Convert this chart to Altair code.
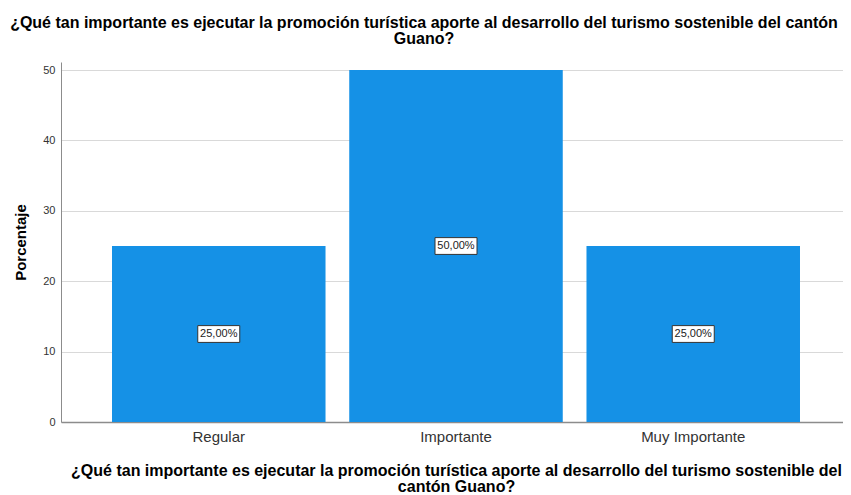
import altair as alt
import pandas as pd

categories = ["Regular", "Importante", "Muy Importante"]
percentages = [25.0, 50.0, 25.0]
y_ticks = [0, 10, 20, 30, 40, 50]
title_lines = [
    "¿Qué tan importante es ejecutar la promoción turística aporte al desarrollo del turismo sostenible del cantón",
    "Guano?",
]
x_title_lines = [
    "¿Qué tan importante es ejecutar la promoción turística aporte al desarrollo del turismo sostenible del",
    "cantón Guano?",
]
y_title = "Porcentaje"

df = pd.DataFrame({"cat": categories, "pct": percentages})
df["label"] = [f"{v:.2f}".replace(".", ",") + "%" for v in percentages]
df["mid"] = df["pct"] / 2

FONT = "Liberation Sans"
x_scale = alt.Scale(domain=categories, range=[0, 790], paddingInner=0.1, paddingOuter=0.215)
y_scale = alt.Scale(domain=[0, 51.14], nice=False, zero=True)

x_axis = alt.Axis(
    title=x_title_lines,
    titleFont=FONT,
    titleFontSize=16,
    titleFontWeight="bold",
    titleColor="#000000",
    titleLineHeight=16,
    titlePadding=18,
    titleX=395,
    labelFont=FONT,
    labelFontSize=15,
    labelColor="#333333",
    labelPadding=7,
    labelAngle=0,
    ticks=False,
    tickSize=0,
    grid=False,
    domainColor="#8c8c8c",
    domainWidth=1.5,
)
y_axis = alt.Axis(
    values=y_ticks,
    format="d",
    title=y_title,
    titleFont=FONT,
    titleFontSize=15,
    titleFontWeight="bold",
    titleColor="#000000",
    titlePadding=14,
    labelFont=FONT,
    labelFontSize=11,
    labelColor="#333333",
    labelPadding=6,
    ticks=False,
    tickSize=0,
    grid=True,
    gridColor="#d9d9d9",
    gridWidth=1.2,
    domainColor="#8c8c8c",
    domainWidth=1,
)

X = alt.X("cat:N", scale=x_scale, sort=categories, axis=x_axis)

base = alt.Chart(df)

bars = base.mark_bar(color="#1591e6").encode(
    x=X,
    y=alt.Y("pct:Q", scale=y_scale, axis=y_axis),
)

boxes = base.mark_point(
    shape="M-1,-0.4L1,-0.4L1,0.4L-1,0.4Z",
    size=1764,
    filled=True,
    fill="white",
    stroke="#333333",
    strokeWidth=1,
    opacity=1,
    fillOpacity=1,
).encode(
    x=X,
    y=alt.Y("mid:Q", scale=y_scale, axis=y_axis),
)

texts = base.mark_text(font=FONT, fontSize=11, color="#222222", baseline="middle", align="center").encode(
    x=X,
    y=alt.Y("mid:Q", scale=y_scale, axis=y_axis),
    text="label:N",
)

chart = (
    alt.layer(bars, boxes, texts)
    .properties(
        width=782,
        height=360,
        title=alt.TitleParams(
            text=title_lines,
            font=FONT,
            fontSize=16,
            fontWeight="bold",
            color="#000000",
            lineHeight=16,
            anchor="middle",
            dx=-28,
            offset=15,
        ),
        autosize=alt.AutoSizeParams(type="none"),
        padding={"left": 53, "top": 54, "right": 0, "bottom": 72},
        background="white",
    )
    .configure_view(stroke=None)
)

chart.save("out.html", embed_options={"renderer": "svg", "actions": False})
